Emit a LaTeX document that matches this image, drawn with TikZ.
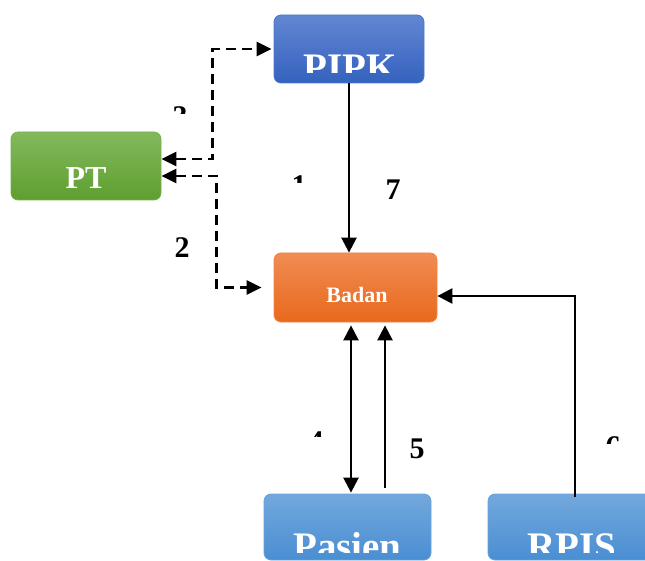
\documentclass[tikz,border=0pt]{standalone}
\usepackage{fontspec}
\setmainfont{Liberation Serif}
\usepackage{xcolor}
\usetikzlibrary{arrows.meta}

\definecolor{pipkTop}{HTML}{6386D2}
\definecolor{pipkBot}{HTML}{3462BF}
\definecolor{pipkLine}{HTML}{4C77CA}
\definecolor{ptTop}{HTML}{83B95C}
\definecolor{ptBot}{HTML}{5E9F30}
\definecolor{ptLine}{HTML}{78B04E}
\definecolor{badanTop}{HTML}{F08C53}
\definecolor{badanBot}{HTML}{E8691C}
\definecolor{badanLine}{HTML}{F28444}
\definecolor{unitTop}{HTML}{72A8DD}
\definecolor{unitBot}{HTML}{4A8ED3}
\definecolor{unitLine}{HTML}{6AA2DA}

\begin{document}
\begin{tikzpicture}[x=1pt, y=-1pt,
    box/.style={rectangle, rounded corners=7pt, line width=0.8pt, inner sep=0pt},
    pipkbox/.style={box, top color=pipkTop, bottom color=pipkBot, draw=pipkLine},
    ptbox/.style={box, top color=ptTop, bottom color=ptBot, draw=ptLine},
    badanbox/.style={box, top color=badanTop, bottom color=badanBot, draw=badanLine},
    unitbox/.style={box, top color=unitTop, bottom color=unitBot, draw=unitLine},
    title/.style={text=white, anchor=base, inner sep=0pt, font=\bfseries\fontsize{39}{39}\selectfont},
    num/.style={anchor=base, inner sep=0pt, font=\bfseries\fontsize{30}{30}\selectfont},
    arrow/.style={-{Triangle[length=15pt, width=15pt]}, line width=2.5pt},
    dblarrow/.style={{Triangle[length=15pt, width=15pt]}-{Triangle[length=15pt, width=15pt]}, line width=2.5pt},
    dasharrow/.style={{Triangle[length=15pt, width=14pt]}-{Triangle[length=15pt, width=14pt]}, line width=2.5pt, dash pattern=on 10pt off 6pt}
]
    \clip (0,0) rectangle (645,561);

    % boxes
    \node[pipkbox, minimum width=150pt, minimum height=68pt] (pipk) at (349,49) {};
    \node[ptbox, minimum width=150pt, minimum height=68pt] (pt) at (86,166) {};
    \node[badanbox, minimum width=163pt, minimum height=69pt] (badan) at (355.5,287.5) {};
    \node[unitbox, minimum width=167pt, minimum height=66pt] (pasien) at (347.5,527) {};
    \node[unitbox, minimum width=167pt, minimum height=66pt] (rpis) at (571.5,527) {};

    % box texts
    \node[title, font=\bfseries\fontsize{32}{32}\selectfont] (pt-t) at (86,189) {PT};
    \node[title, font=\bfseries\fontsize{22}{22}\selectfont] (badan-t) at (357,302) {Badan};
    \begin{scope}
        \clip (274,15) rectangle (424,73);
        \node[title] (pipk-t) at (350,81) {PIPK};
    \end{scope}
    \begin{scope}
        \clip (264,494) rectangle (431,552);
        \node[title] (pasien-t) at (347.5,559) {Pasien};
    \end{scope}
    \begin{scope}
        \clip (488,494) rectangle (645,552);
        \node[title] (rpis-t) at (572,559) {RPIS};
    \end{scope}

    % connectors
    \draw[arrow] (pipk.south) -- (pipk.south |- badan.north);
    \draw[dasharrow] ([yshift=7pt]pt.east) -| ([xshift=-61pt]pipk.west) -- ([xshift=-2pt]pipk.west);
    \draw[dasharrow] ([yshift=-10pt]pt.east) -| ([xshift=-57pt]badan.west) -- ([xshift=-12pt]badan.west);
    \draw[dblarrow] ([xshift=-4.5pt, yshift=-3pt]badan.south) -- ([xshift=3.5pt, yshift=1pt]pasien.north);
    \draw[arrow] ([xshift=37.5pt, yshift=6pt]pasien.north) -- ([xshift=29.5pt, yshift=-3pt]badan.south);
    \draw[arrow] ([xshift=3.5pt, yshift=-3pt]rpis.north) |- ([yshift=-8.5pt]badan.east);

    % step numbers
    \node[num] (n2) at (182,258) {2};
    \node[num] (n5) at (417,458) {5};
    \node[num] (n7) at (393,200) {7};
    \begin{scope}
        \clip (165,102) rectangle (195,114);
        \node[num] (n3) at (180,127) {3};
    \end{scope}
    \begin{scope}
        \clip (285,171) rectangle (315,183);
        \node[num] (n1) at (299,196) {1};
    \end{scope}
    \begin{scope}
        \clip (300,426) rectangle (330,436);
        \node[num] (n4) at (316,451) {4};
    \end{scope}
    \begin{scope}
        \clip (598,431) rectangle (628,443);
        \node[num] (n6) at (613,456) {6};
    \end{scope}
\end{tikzpicture}
\end{document}
